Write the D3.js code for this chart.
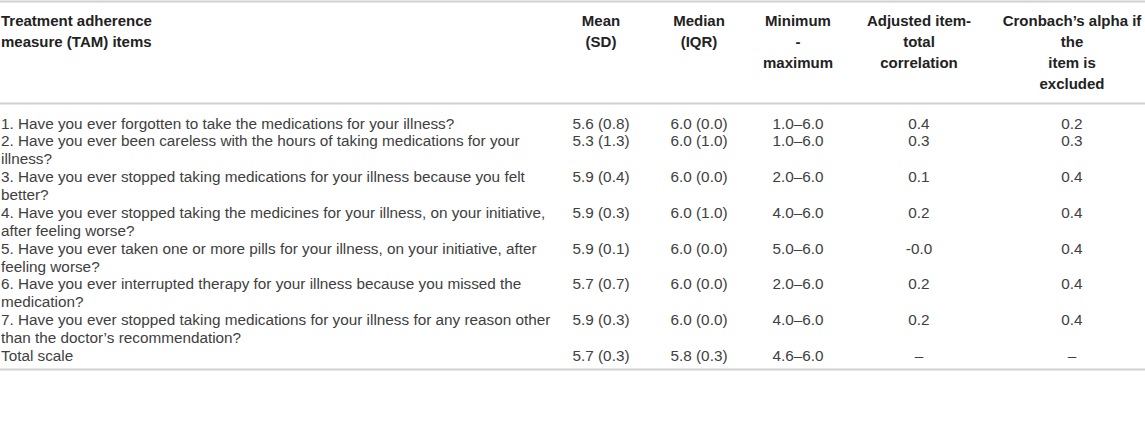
<!DOCTYPE html>
<html>
<head>
<meta charset="utf-8">
<script src="https://cdn.jsdelivr.net/npm/d3@7"></script>
<style>
  html, body { margin: 0; padding: 0; background: #fff; }
  svg { display: block; font-family: "Liberation Sans", Arial, Helvetica, sans-serif; }
</style>
</head>
<body>
<svg id="svg_table" width="1145" height="422"></svg>
<script>
// table content
const headers = [
  ['Treatment adherence', 'measure (TAM) items'],
  ['Mean', '(SD)'],
  ['Median', '(IQR)'],
  ['Minimum', '-', 'maximum'],
  ['Adjusted item-', 'total', 'correlation'],
  ['Cronbach\u2019s alpha if', 'the', 'item is', 'excluded']
]

const items = [
  '1. Have you ever forgotten to take the medications for your illness?',
  '2. Have you ever been careless with the hours of taking medications for your\nillness?',
  '3. Have you ever stopped taking medications for your illness because you felt\nbetter?',
  '4. Have you ever stopped taking the medicines for your illness, on your initiative,\nafter feeling worse?',
  '5. Have you ever taken one or more pills for your illness, on your initiative, after\nfeeling worse?',
  '6. Have you ever interrupted therapy for your illness because you missed the\nmedication?',
  '7. Have you ever stopped taking medications for your illness for any reason other\nthan the doctor\u2019s recommendation?',
  'Total scale'
]
const meanSD = ['5.6 (0.8)', '5.3 (1.3)', '5.9 (0.4)', '5.9 (0.3)', '5.9 (0.1)', '5.7 (0.7)', '5.9 (0.3)', '5.7 (0.3)']
const medianIQR = ['6.0 (0.0)', '6.0 (1.0)', '6.0 (0.0)', '6.0 (1.0)', '6.0 (0.0)', '6.0 (0.0)', '6.0 (0.0)', '5.8 (0.3)']
const minMax = ['1.0\u20136.0', '1.0\u20136.0', '2.0\u20136.0', '4.0\u20136.0', '5.0\u20136.0', '2.0\u20136.0', '4.0\u20136.0', '4.6\u20136.0']
const itemTotal = ['0.4', '0.3', '0.1', '0.2', '-0.0', '0.2', '0.2', '\u2013']
const alphaIfDeleted = ['0.2', '0.3', '0.4', '0.4', '0.4', '0.4', '0.4', '\u2013']

function drawTable() {
  const svg = d3.select('#svg_table')
  const W = 1145
  const fs = 15.3

  const cols = ['item', 'mean', 'median', 'range', 'itc', 'alpha']
  const valueCols = [meanSD, medianIQR, minMax, itemTotal, alphaIfDeleted]

  // column centres (first column is left aligned)
  const xCol = d3.scaleOrdinal()
    .domain(cols)
    .range([1, 601, 699, 798, 919, 1072])

  // header lines
  const headLine = d3.scaleLinear().domain([0, 1]).range([25.5, 46.8])

  const headG = svg.append('g')
  headers.forEach((lines, ci) => {
    const t = headG.append('text')
      .attr('x', xCol(cols[ci]))
      .attr('text-anchor', ci === 0 ? 'start' : 'middle')
      .attr('font-size', 15)
      .attr('font-weight', 'bold')
      .attr('fill', '#222')
    t.selectAll('tspan')
      .data(lines)
      .enter()
      .append('tspan')
      .attr('x', xCol(cols[ci]))
      .attr('y', (d, i) => headLine(i))
      .text(d => d)
  })

  // body rows: each row starts on the next free text line
  const rows = items.map(s => s.split('\n'))
  const starts = []
  let n = 0
  rows.forEach(r => { starts.push(n); n += r.length })
  const bodyLine = d3.scaleLinear().domain([0, n - 1]).range([128.5, 361])

  const bodyG = svg.append('g')
    .attr('font-size', fs)
    .attr('fill', '#404040')

  rows.forEach((lines, ri) => {
    const t = bodyG.append('text').attr('x', xCol('item'))
    t.selectAll('tspan')
      .data(lines)
      .enter()
      .append('tspan')
      .attr('x', xCol('item'))
      .attr('y', (d, i) => bodyLine(starts[ri] + i))
      .text(d => d)
  })

  valueCols.forEach((vals, ci) => {
    bodyG.selectAll(null)
      .data(vals)
      .enter()
      .append('text')
      .attr('x', xCol(cols[ci + 1]))
      .attr('y', (d, i) => bodyLine(starts[i]))
      .attr('text-anchor', 'middle')
      .text(d => d)
  })

  // rules
  const rules = [1.5, 103.5, 369.5]
  svg.append('g')
    .selectAll('line')
    .data(rules)
    .enter()
    .append('line')
    .attr('x1', 0)
    .attr('x2', W)
    .attr('y1', d => d)
    .attr('y2', d => d)
    .attr('stroke', '#d0d0d0')
    .attr('stroke-width', 2)
}

drawTable()
</script>
</body>
</html>
